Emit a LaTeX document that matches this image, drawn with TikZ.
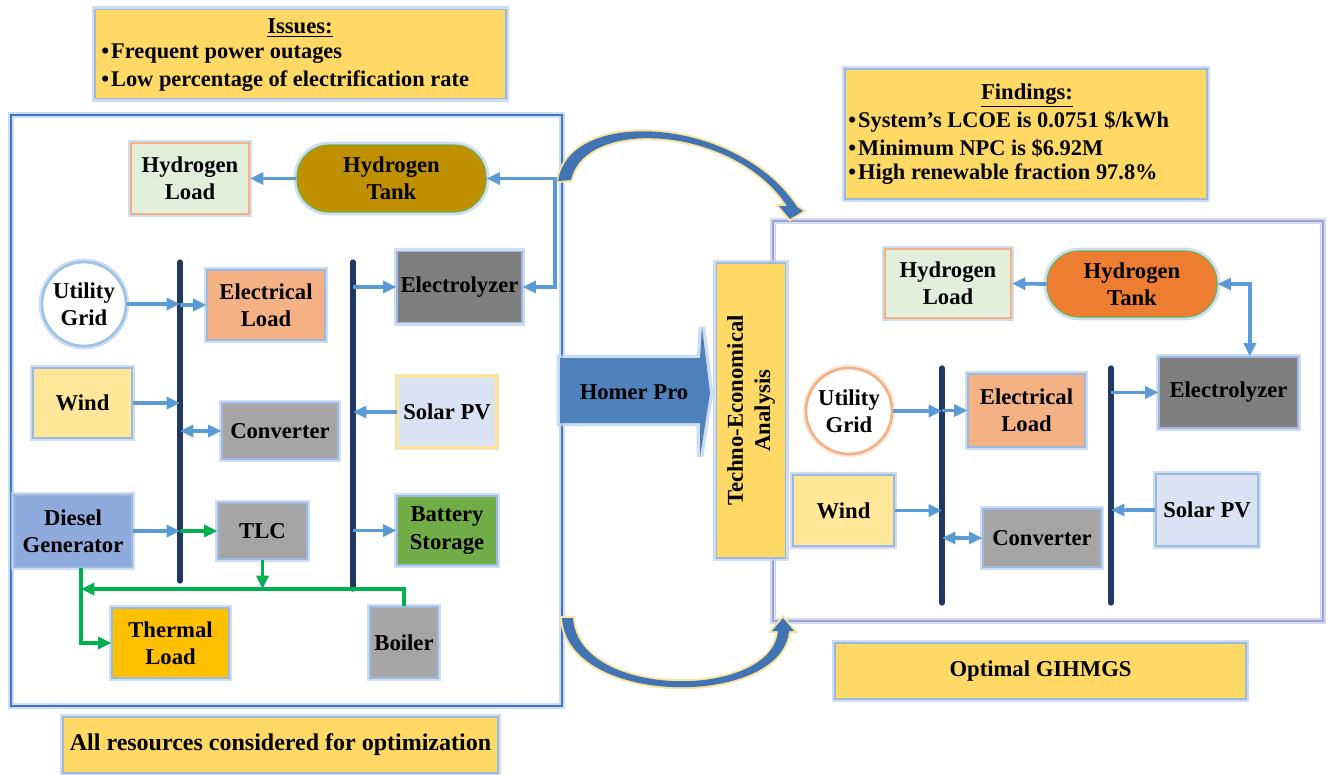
\documentclass[tikz,border=0pt]{standalone}
\usepackage{fontspec}
\setmainfont{Liberation Serif}
\usetikzlibrary{arrows.meta,calc}
\definecolor{yboxc}{HTML}{FFD966}
\definecolor{glowc}{HTML}{BDD3EE}
\definecolor{boxb}{HTML}{9DB9E0}
\definecolor{hlfill}{HTML}{E2EFDA}
\definecolor{salmon}{HTML}{F4B183}
\definecolor{goldc}{HTML}{BF9000}
\definecolor{orangec}{HTML}{ED7D31}
\definecolor{greenb}{HTML}{70AD47}
\definecolor{ezfill}{HTML}{7F7F7F}
\definecolor{windfill}{HTML}{FFE699}
\definecolor{grayf}{HTML}{A5A5A5}
\definecolor{pvfill}{HTML}{DAE3F3}
\definecolor{dgfill}{HTML}{8FAADC}
\definecolor{batfill}{HTML}{70AD47}
\definecolor{thfill}{HTML}{FFC000}
\definecolor{busc}{HTML}{1F3864}
\definecolor{conb}{HTML}{5B9BD5}
\definecolor{cong}{HTML}{00B050}
\definecolor{homerc}{HTML}{4F81BD}
\definecolor{arrc}{HTML}{4274B3}
\definecolor{yglow}{HTML}{F7E4A0}
\definecolor{frameL}{HTML}{4472C4}
\definecolor{frameR}{HTML}{A99FD2}
\definecolor{ringb}{HTML}{9DC3E6}
\begin{document}
\begin{tikzpicture}[x=0.75pt,y=-0.75pt,
  font=\fontsize{17}{20.5}\selectfont\bfseries,
  glow/.style={preaction={draw=#1, line width=5pt, opacity=0.75}},
  glow/.default=glowc,
  sz/.style n args={2}{minimum width={#1*0.75pt}, minimum height={#2*0.75pt}},
  box/.style={rectangle, draw=boxb, line width=0.8pt, glow, align=center, inner sep=1pt, text=black},
  ybox/.style={rectangle, draw=boxb, line width=0.8pt, glow, fill=yboxc, align=center, inner sep=1pt},
  barrow/.style={draw=conb, line width=2.8pt, -{Triangle[length=10pt,width=9pt]}},
  barrows/.style={draw=conb, line width=2.8pt, {Triangle[length=10pt,width=9pt]}-{Triangle[length=10pt,width=9pt]}},
  garrow/.style={draw=cong, line width=2.8pt, -{Triangle[length=10pt,width=9pt]}},
  bus/.style={draw=busc, line width=4pt, line cap=round},
  txt/.style={anchor=west, inner sep=0pt, font=\fontsize{16.8}{20}\selectfont\bfseries}
]
\useasboundingbox (0,0) rectangle (1330,774);

% frames
\draw[draw=frameL, line width=1.6pt, glow] (11,115) rectangle (562,706);
\draw[draw=frameR, line width=1pt, glow] (773,221) rectangle (1323,621);

% top yellow boxes
\node[ybox, sz={411}{89}] (iss) at (300.5,54) {};
\node (isT) at (300,28) {\underline{Issues:}};
\node[txt] (is1) at (101,54) {\textbullet\hspace{1.5pt}Frequent power outages};
\node[txt] (is2) at (101,81) {\textbullet\hspace{1.5pt}Low percentage of electrification rate};

\node[ybox, sz={362}{130}] (fnd) at (1026,134) {};
\node (fnT) at (1027,95) {\underline{Findings:}};
\node[txt] (fn1) at (848,122) {\textbullet\hspace{1.5pt}System’s LCOE is 0.0751 \$/kWh};
\node[txt] (fn2) at (848,148) {\textbullet\hspace{1.5pt}Minimum NPC is \$6.92M};
\node[txt] (fn3) at (848,174) {\textbullet\hspace{1.5pt}High renewable fraction 97.8\%};

\node[ybox, sz={435}{56}, font=\fontsize{18}{21}\selectfont\bfseries] (all) at (280.5,745) {All resources considered for optimization};
\node[ybox, sz={411}{56}] (opt) at (1040.5,671) {Optimal GIHMGS};

% curved arrows
\fill[arrc, preaction={draw=yglow, line width=3pt}] (558,181) .. controls (570,105) and (740,118) .. (797,207)
  -- (803,211) -- (790,219) -- (779,206) -- (787,206)
  .. controls (735,126) and (585,116) .. (571,180) -- cycle;
\fill[arrc, preaction={draw=yglow, line width=3pt}] (562,618) .. controls (568,708) and (782,708) .. (789,631)
  -- (794,631) -- (783,618) -- (772,631) -- (778,631)
  .. controls (772,700) and (578,700) .. (573,618) -- cycle;

% Homer Pro arrow
\fill[homerc, glow] (560,358) -- (700,358) -- (702,327) -- (710,393) -- (700,457) -- (700,423) -- (560,423) -- cycle;
\node (hp) at (634,392) {Homer Pro};

% Techno-economical box
\node[ybox, rotate=90, sz={295}{69}] (tea) at (751,410.5) {Techno-Economical\\Analysis};

% ===== left system =====
\node[box, fill=hlfill, draw=salmon, line width=1.5pt, sz={118}{71}] (hl) at (190,178.5) {Hydrogen\\Load};
\node[box, fill=goldc, draw=greenb, rounded corners=24pt, sz={189}{67}] (ht) at (391.5,178.5) {Hydrogen\\Tank};
\node[circle, draw=ringb, line width=2pt, glow, fill=white, align=center, inner sep=0pt, minimum size=63pt] (ug) at (84,304) {Utility\\Grid};
\node[box, fill=salmon, sz={118}{70}] (el) at (266,305) {Electrical\\Load};
\node[box, fill=ezfill, sz={125}{71}] (ez) at (459.5,287) {Electrolyzer};
\node[box, fill=windfill, sz={99}{70}] (wd) at (82.5,403) {Wind};
\node[box, fill=grayf, sz={116}{56}] (cv) at (280,431) {Converter};
\node[box, fill=pvfill, glow=windfill, draw=windfill, sz={98}{70}] (pv) at (447,412) {Solar PV};
\node[box, fill=dgfill, sz={118}{72}] (dg) at (73,531) {Diesel\\Generator};
\node[box, fill=grayf, sz={89}{56}] (tlc) at (262.5,531) {TLC};
\node[box, fill=batfill, sz={100}{69}] (bat) at (447,530.5) {Battery\\Storage};
\node[box, fill=thfill, sz={117}{70}] (th) at (170.5,643) {Thermal\\Load};
\node[box, fill=grayf, sz={68}{71}] (bo) at (404,642.5) {Boiler};

\coordinate (b1t) at (180,262); \coordinate (b1b) at (180,581);
\coordinate (b2t) at (353,262); \coordinate (b2b) at (353,589);
\draw[bus] (b1t) -- (b1b);
\draw[bus] (b2t) -- (b2b);
\coordinate (hc) at (555,178.5);
\coordinate (gl) at (404,589);

\draw[barrow] (ht.west) -- (hl.east);
\draw[barrows] (ez.east) -| (hc) -- (ht.east);
\draw[barrow] (ug.east) -- (ug.east -| b1t);
\draw[barrow] (el.west -| b1t) -- (el.west);
\draw[barrow] (ez.west -| b2t) -- (ez.west);
\draw[barrow] (wd.east) -- (wd.east -| b1t);
\draw[barrows] (cv.west -| b1t) -- (cv.west);
\draw[barrow] (pv.west) -- (pv.west -| b2t);
\draw[barrow] (dg.east) -- (dg.east -| b1t);
\draw[garrow] (tlc.west -| b1t) -- (tlc.west);
\draw[barrow] (bat.west -| b2t) -- (bat.west);
\draw[garrow] (tlc.south) -- (tlc.south |- gl);
\draw[garrow] (bo.north) -- (gl) -- ([xshift=6pt]dg.south |- gl);
\draw[garrow] ([xshift=6pt]dg.south) |- (th.west);

% ===== right system =====
\node[box, fill=hlfill, draw=salmon, line width=1.5pt, sz={126}{69}] (hlR) at (948,283.5) {Hydrogen\\Load};
\node[box, fill=orangec, draw=greenb, rounded corners=24pt, sz={170}{66}] (htR) at (1132,284) {Hydrogen\\Tank};
\node[circle, draw=salmon, line width=2pt, glow=salmon!40, fill=white, align=center, inner sep=0pt, minimum size=64.5pt] (ugR) at (849,411) {Utility\\Grid};
\node[box, fill=salmon, sz={117}{73}] (elR) at (1026.5,410.5) {Electrical\\Load};
\node[box, fill=ezfill, sz={139}{71}] (ezR) at (1228.5,392.5) {Electrolyzer};
\node[box, fill=windfill, sz={101}{71}] (wdR) at (843.5,510.5) {Wind};
\node[box, fill=grayf, sz={118}{58}] (cvR) at (1042,538) {Converter};
\node[box, fill=pvfill, sz={102}{72}] (pvR) at (1207,510) {Solar PV};

\coordinate (b3t) at (942,368); \coordinate (b3b) at (942,603);
\coordinate (b4t) at (1111,368); \coordinate (b4b) at (1111,603);
\draw[bus] (b3t) -- (b3b);
\draw[bus] (b4t) -- (b4b);

\draw[barrow] (htR.west) -- (hlR.east);
\draw[barrows] (htR.east) -| ([xshift=16pt]ezR.north);
\draw[barrow] (ugR.east) -- (ugR.east -| b3t);
\draw[barrow] (elR.west -| b3t) -- (elR.west);
\draw[barrow] (ezR.west -| b4t) -- (ezR.west);
\draw[barrow] (wdR.east) -- (wdR.east -| b3t);
\draw[barrows] (cvR.west -| b3t) -- (cvR.west);
\draw[barrow] (pvR.west) -- (pvR.west -| b4t);
\end{tikzpicture}
\end{document}
